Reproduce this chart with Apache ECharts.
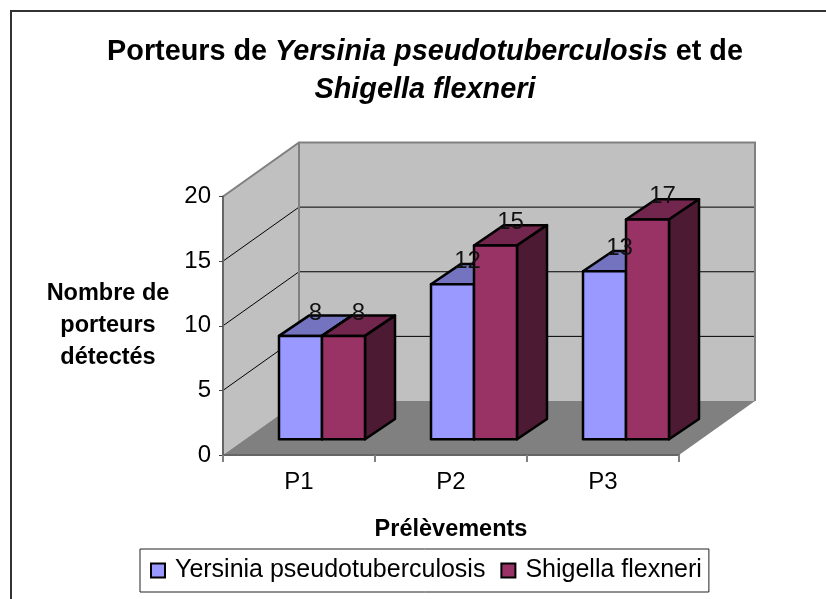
<!DOCTYPE html>
<html>
<head>
<meta charset="utf-8">
<script src="https://cdn.jsdelivr.net/npm/echarts@6/dist/echarts.min.js"></script>
<style>
  html, body { margin: 0; background: #fff; }
  #chart { width: 826px; height: 599px; }
</style>
</head>
<body>
<div id="chart"></div>
<script>
const categories = ['P1', 'P2', 'P3']
const yersinia = [8, 12, 13]
const shigella = [8, 15, 17]
const gridTicks = [5, 10, 15]

const FONT = '"Liberation Sans", Arial, sans-serif'
const DEPTH = [76, -54]      // decalage mur du fond
const BAR_SHIFT = [23, -15.7] // les barres sont posees au milieu du sol
const BAR_DEPTH = [30, -20.3]
const BAR_W = 43

function poly(points, fill, stroke, lineWidth) {
  return { type: 'polygon', shape: { points }, style: { fill, stroke, lineWidth, lineJoin: 'round' } }
}

function renderWalls(params, api) {
  const sys = params.coordSys
  const x0 = sys.x, x1 = sys.x + sys.width
  const yTop = sys.y, yBot = sys.y + sys.height
  const [dx, dy] = DEPTH
  const children = [
    poly([[x0, yTop], [x0 + dx, yTop + dy], [x0 + dx, yBot + dy], [x0, yBot]], '#c0c0c0', null, 0),
    poly([[x0 + dx, yTop + dy], [x1 + dx, yTop + dy], [x1 + dx, yBot + dy], [x0 + dx, yBot + dy]], '#c0c0c0', null, 0),
    poly([[x0, yBot], [x0 + dx, yBot + dy], [x1 + dx, yBot + dy], [x1, yBot]], '#808080', null, 0),
  ]
  gridTicks.forEach(v => {
    const y = api.coord([0, v])[1]
    children.push({
      type: 'polyline',
      shape: { points: [[x0, y], [x0 + dx, y + dy], [x1 + dx, y + dy]] },
      style: { fill: null, stroke: '#000', lineWidth: 1 },
    })
  })
  children.push({
    type: 'polyline',
    shape: { points: [[x0, yTop], [x0 + dx, yTop + dy], [x1 + dx, yTop + dy], [x1 + dx, yBot + dy]] },
    style: { fill: null, stroke: '#808080', lineWidth: 2 },
  }, {
    type: 'line',
    shape: { x1: x0 + dx, y1: yTop + dy, x2: x0 + dx, y2: yBot + dy },
    style: { stroke: '#808080', lineWidth: 2 },
  })
  return { type: 'group', children }
}

function barRenderer(slot, front, top, side) {
  return function (params, api) {
    const cat = api.value(0)
    const val = api.value(1)
    const pt = api.coord([cat, val])
    const zero = api.coord([cat, 0])
    const l = pt[0] + BAR_SHIFT[0] + slot * BAR_W
    const r = l + BAR_W
    const t = pt[1] + BAR_SHIFT[1]
    const b = zero[1] + BAR_SHIFT[1]
    const [dx, dy] = BAR_DEPTH
    return {
      type: 'group',
      children: [
        poly([[l, t], [l + dx, t + dy], [r + dx, t + dy], [r, t]], top, '#000', 2.5),
        poly([[r, t], [r + dx, t + dy], [r + dx, b + dy], [r, b]], side, '#000', 2.5),
        poly([[l, t], [r, t], [r, b], [l, b]], front, '#000', 2.5),
        {
          type: 'text',
          z2: 100,
          style: {
            text: String(val),
            x: l + BAR_W / 2 + dx / 2,
            y: t + dy - 2.5,
            align: 'center',
            verticalAlign: 'middle',
            font: '24px ' + FONT,
            fill: '#111',
          },
        },
      ],
    }
  }
}

function toPoints(values) {
  return values.map((v, i) => [i, v])
}

const chart = echarts.init(document.getElementById('chart'))
chart.setOption({
  animation: false,
  backgroundColor: '#fff',
  title: {
    left: 420,
    top: 28,
    textAlign: 'center',
    text: '{b|Porteurs de }{i|Yersinia pseudotuberculosis}{b| et de}\n{i|Shigella flexneri}',
    textStyle: {
      rich: {
        b: { fontFamily: FONT, fontSize: 28.8, fontWeight: 'bold', lineHeight: 38, color: '#000' },
        i: { fontFamily: FONT, fontSize: 28.8, fontWeight: 'bold', fontStyle: 'italic', lineHeight: 38, color: '#000' },
      },
    },
  },
  graphic: [
    { type: 'line', shape: { x1: 10, y1: 11, x2: 826, y2: 11 }, style: { stroke: '#333', lineWidth: 2 } },
    { type: 'line', shape: { x1: 11, y1: 10, x2: 11, y2: 599 }, style: { stroke: '#333', lineWidth: 2 } },
  ],
  legend: {
    data: ['Yersinia pseudotuberculosis', 'Shigella flexneri'],
    left: 140,
    top: 549,
    padding: [9, 7, 9, 10],
    itemWidth: 14,
    itemHeight: 14,
    itemGap: 15,
    icon: 'rect',
    itemStyle: { borderColor: '#000', borderWidth: 2 },
    borderColor: '#222',
    borderWidth: 1,
    textStyle: { fontFamily: FONT, fontSize: 25, color: '#000', padding: [0, 0, 0, 5] },
  },
  grid: { left: 223, right: 147, top: 196.5, bottom: 144 },
  xAxis: {
    type: 'category',
    data: categories,
    z: 3,
    name: 'Prélèvements',
    nameLocation: 'middle',
    nameGap: 63,
    nameTextStyle: { fontFamily: FONT, fontSize: 23.5, fontWeight: 'bold', color: '#000' },
    axisLine: { lineStyle: { color: '#666', width: 2 } },
    axisTick: { show: true, length: 7, lineStyle: { color: '#808080', width: 2 } },
    axisLabel: { fontFamily: FONT, fontSize: 24, color: '#000', margin: 15 },
  },
  yAxis: {
    type: 'value',
    min: 0,
    max: 20,
    interval: 5,
    z: 3,
    name: 'Nombre de\nporteurs\ndétectés',
    nameLocation: 'middle',
    nameRotate: 0,
    nameGap: 115,
    nameTextStyle: { fontFamily: FONT, fontSize: 23.5, fontWeight: 'bold', color: '#000', lineHeight: 32, align: 'center' },
    axisLine: { show: true, lineStyle: { color: '#666', width: 2 } },
    axisTick: { show: true, length: 4, lineStyle: { color: '#444' } },
    axisLabel: { fontFamily: FONT, fontSize: 24, color: '#000', margin: 12 },
    splitLine: { show: false },
  },
  series: [
    { type: 'custom', name: 'walls', z: 1, silent: true, data: [[0, 0]], renderItem: renderWalls },
    {
      type: 'custom',
      name: 'Yersinia pseudotuberculosis',
      z: 2,
      itemStyle: { color: '#9999ff' },
      data: toPoints(yersinia),
      renderItem: barRenderer(-1, '#9999ff', '#7373bf', '#4c4c7f'),
    },
    {
      type: 'custom',
      name: 'Shigella flexneri',
      z: 2,
      itemStyle: { color: '#993366' },
      data: toPoints(shigella),
      renderItem: barRenderer(0, '#993366', '#73264d', '#4d1a33'),
    },
  ],
})
</script>
</body>
</html>
